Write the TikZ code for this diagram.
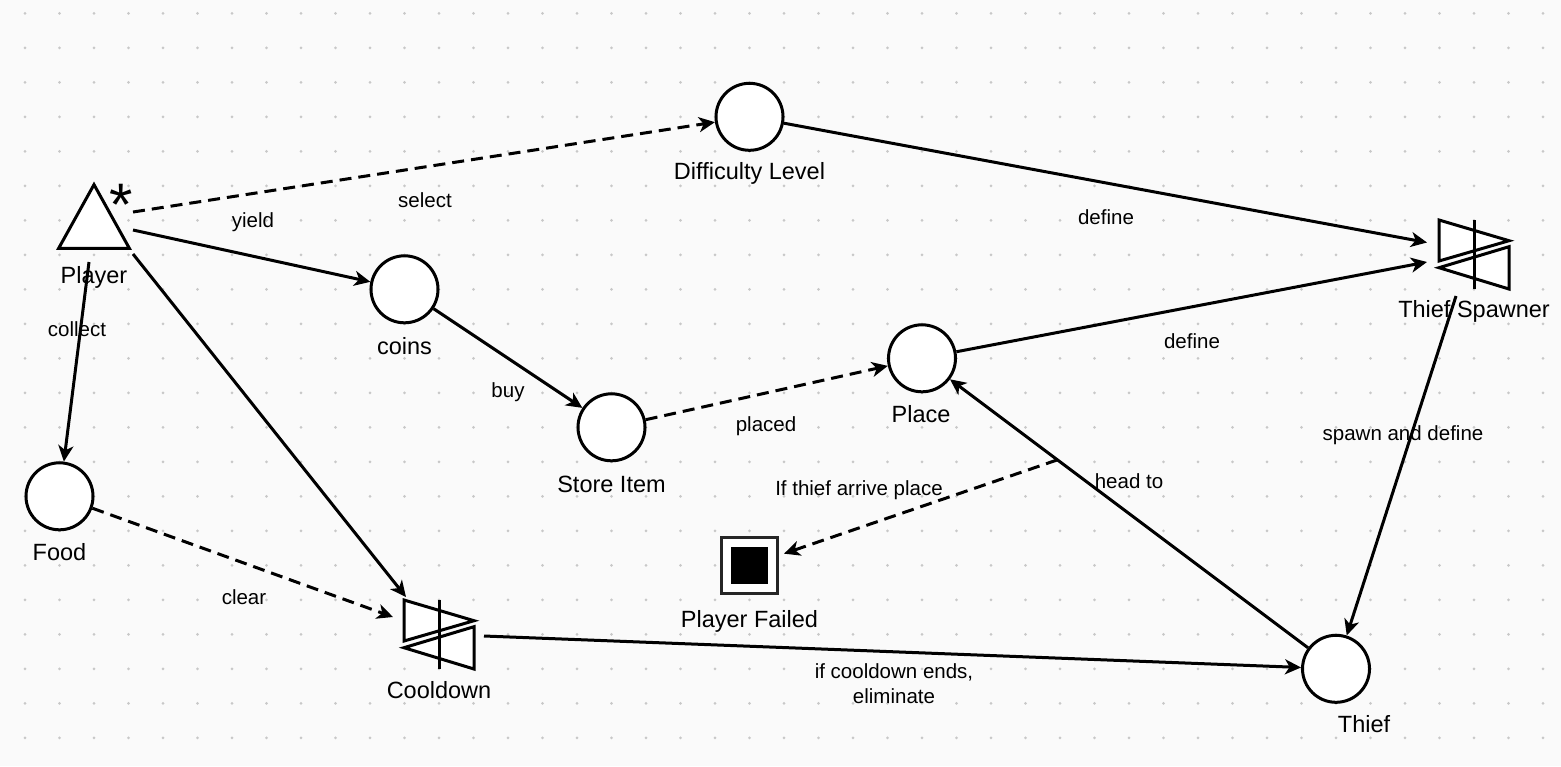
\documentclass[tikz,border=0pt]{standalone}
\usepackage{fontspec}
\setmainfont{Liberation Sans}
\usetikzlibrary{arrows.meta,calc}
\definecolor{bgc}{RGB}{250,250,250}
\definecolor{dotc}{RGB}{200,200,200}
\begin{document}
\begin{tikzpicture}[x=0.5pt,y=-0.5pt,
  ln/.style={line width=1.5pt,-{Stealth[length=8pt,width=7.5pt,inset=2.3pt]}},
  dsh/.style={ln,dash pattern=on 6pt off 3.5pt},
  state/.style={circle,draw,line width=1.5pt,fill=white,minimum size=33.5pt,inner sep=0pt},
  boxn/.style={rectangle,draw=none,inner sep=0pt,minimum width=35pt,minimum height=34.5pt},
  shp/.style={draw,line width=1.5pt,fill=white,line join=miter},
  lbl/.style={font=\fontsize{11.75}{14}\selectfont,inner sep=0pt},
  elbl/.style={font=\fontsize{10.25}{12.5}\selectfont,inner sep=0pt,align=center}]
% background
\fill[bgc] (0,0) rectangle (1561,766);
\useasboundingbox (0,0) rectangle (1561,766);
\foreach \i in {0,...,44}{\foreach \j in {0,...,21}{
  \fill[dotc] (25+\i*34.5,13.3+\j*34.5) circle (1.5);}}
% nodes
\node[boxn,minimum height=31.5pt] (player) at (94,216.5) {};
\draw[shp] (player.north) -- (player.south east) -- (player.south west) -- cycle;
\node[lbl,font=\fontsize{30}{30}\selectfont,anchor=base] (star) at (121.5,225) {*};
\node[state] (diff) at (749.5,116.8) {};
\node[state] (coins) at (404.5,289.3) {};
\node[state] (store) at (611.5,427.3) {};
\node[state] (place) at (922,358.3) {};
\node[state] (food) at (59.5,496.3) {};
\node[state] (thief) at (1336,668.8) {};
\node[rectangle,draw=black!85,line width=1.2pt,fill=white,minimum size=28pt,inner sep=0pt,outer sep=3.3pt] (failed) at (749.4,565.5) {};
\fill[black] ($(failed)+(-18.6,-18.6)$) rectangle ($(failed)+(18.6,18.6)$);
% valves
\node[boxn] (spawner) at (1474,254.5) {};
\node[boxn] (cool) at (439,634.5) {};
\foreach \v in {spawner,cool}{
  \draw[shp] ($(\v)+(-35,-34.5)$) -- ($(\v)+(35,-13.8)$) -- ($(\v)+(-35,6.5)$) -- cycle;
  \draw[shp] ($(\v)+(35,-7.8)$) -- ($(\v)+(35,34.5)$) -- ($(\v)+(-35,13.2)$) -- cycle;
  \draw[line width=1.5pt] ($(\v)+(0,-34.5)$) -- ($(\v)+(0,34.5)$);
}
% node labels
\node[lbl] (lplayer) at (94,277) {Player};
\node[lbl] (ldiff) at (749.5,173) {Difficulty Level};
\node[lbl] (lcoins) at (404.5,346) {coins};
\node[lbl] (lstore) at (611.5,484) {Store Item};
\node[lbl] (lplace) at (921,414) {Place};
\node[lbl] (lfood) at (59.5,552) {Food};
\node[lbl] (lthief) at (1364,724) {Thief};
\node[lbl] (lfailed) at (749.5,621) {Player Failed};
\node[lbl] (lspawner) at (1474,311) {Thief Spawner};
\node[lbl] (lcool) at (439,690) {Cooldown};
% connectors
\draw[dsh] ($(player)+(39,-4.5)$) -- (diff);
\draw[ln] ($(player)+(39,13.5)$) -- (coins);
\draw[ln] ($(player)+(-5,45.5)$) -- (food);
\draw[ln] ($(player)+(39,37.5)$) -- ($(cool)+(-33,-37.5)$);
\draw[dsh] (food) -- ($(cool)+(-46,-17.5)$);
\draw[ln] (coins) -- (store);
\draw[dsh] (store) -- (place);
\draw[ln] (diff) -- ($(spawner)+(-47,-12)$);
\draw[ln] (place) -- ($(spawner)+(-47,7.5)$);
\draw[ln] ($(spawner)+(-18,41.5)$) -- (thief);
\draw[ln] (thief) -- coordinate[pos=0.7] (mid) (place);
\draw[dsh] (mid) -- (failed);
\draw[ln] ($(cool)+(45,1.5)$) -- (thief);
% connector labels
\node[elbl] (lselect) at (425,200) {select};
\node[elbl] (lyield) at (253,222) {yield};
\node[elbl] (lcollect) at (77,329) {collect};
\node[elbl] (lclear) at (244,597) {clear};
\node[elbl] (lbuy) at (508,392) {buy};
\node[elbl] (lplaced) at (766,426) {placed};
\node[elbl] (ldef1) at (1106,217) {define};
\node[elbl] (ldef2) at (1192,341) {define};
\node[elbl] (lspawn) at (1403,435) {spawn and define};
\node[elbl] (lhead) at (1129,481) {head to};
\node[elbl] (larrive) at (859,490) {If thief arrive place};
\node[elbl] (lelim) at (894,684) {if cooldown ends,\\eliminate};
\end{tikzpicture}
\end{document}
